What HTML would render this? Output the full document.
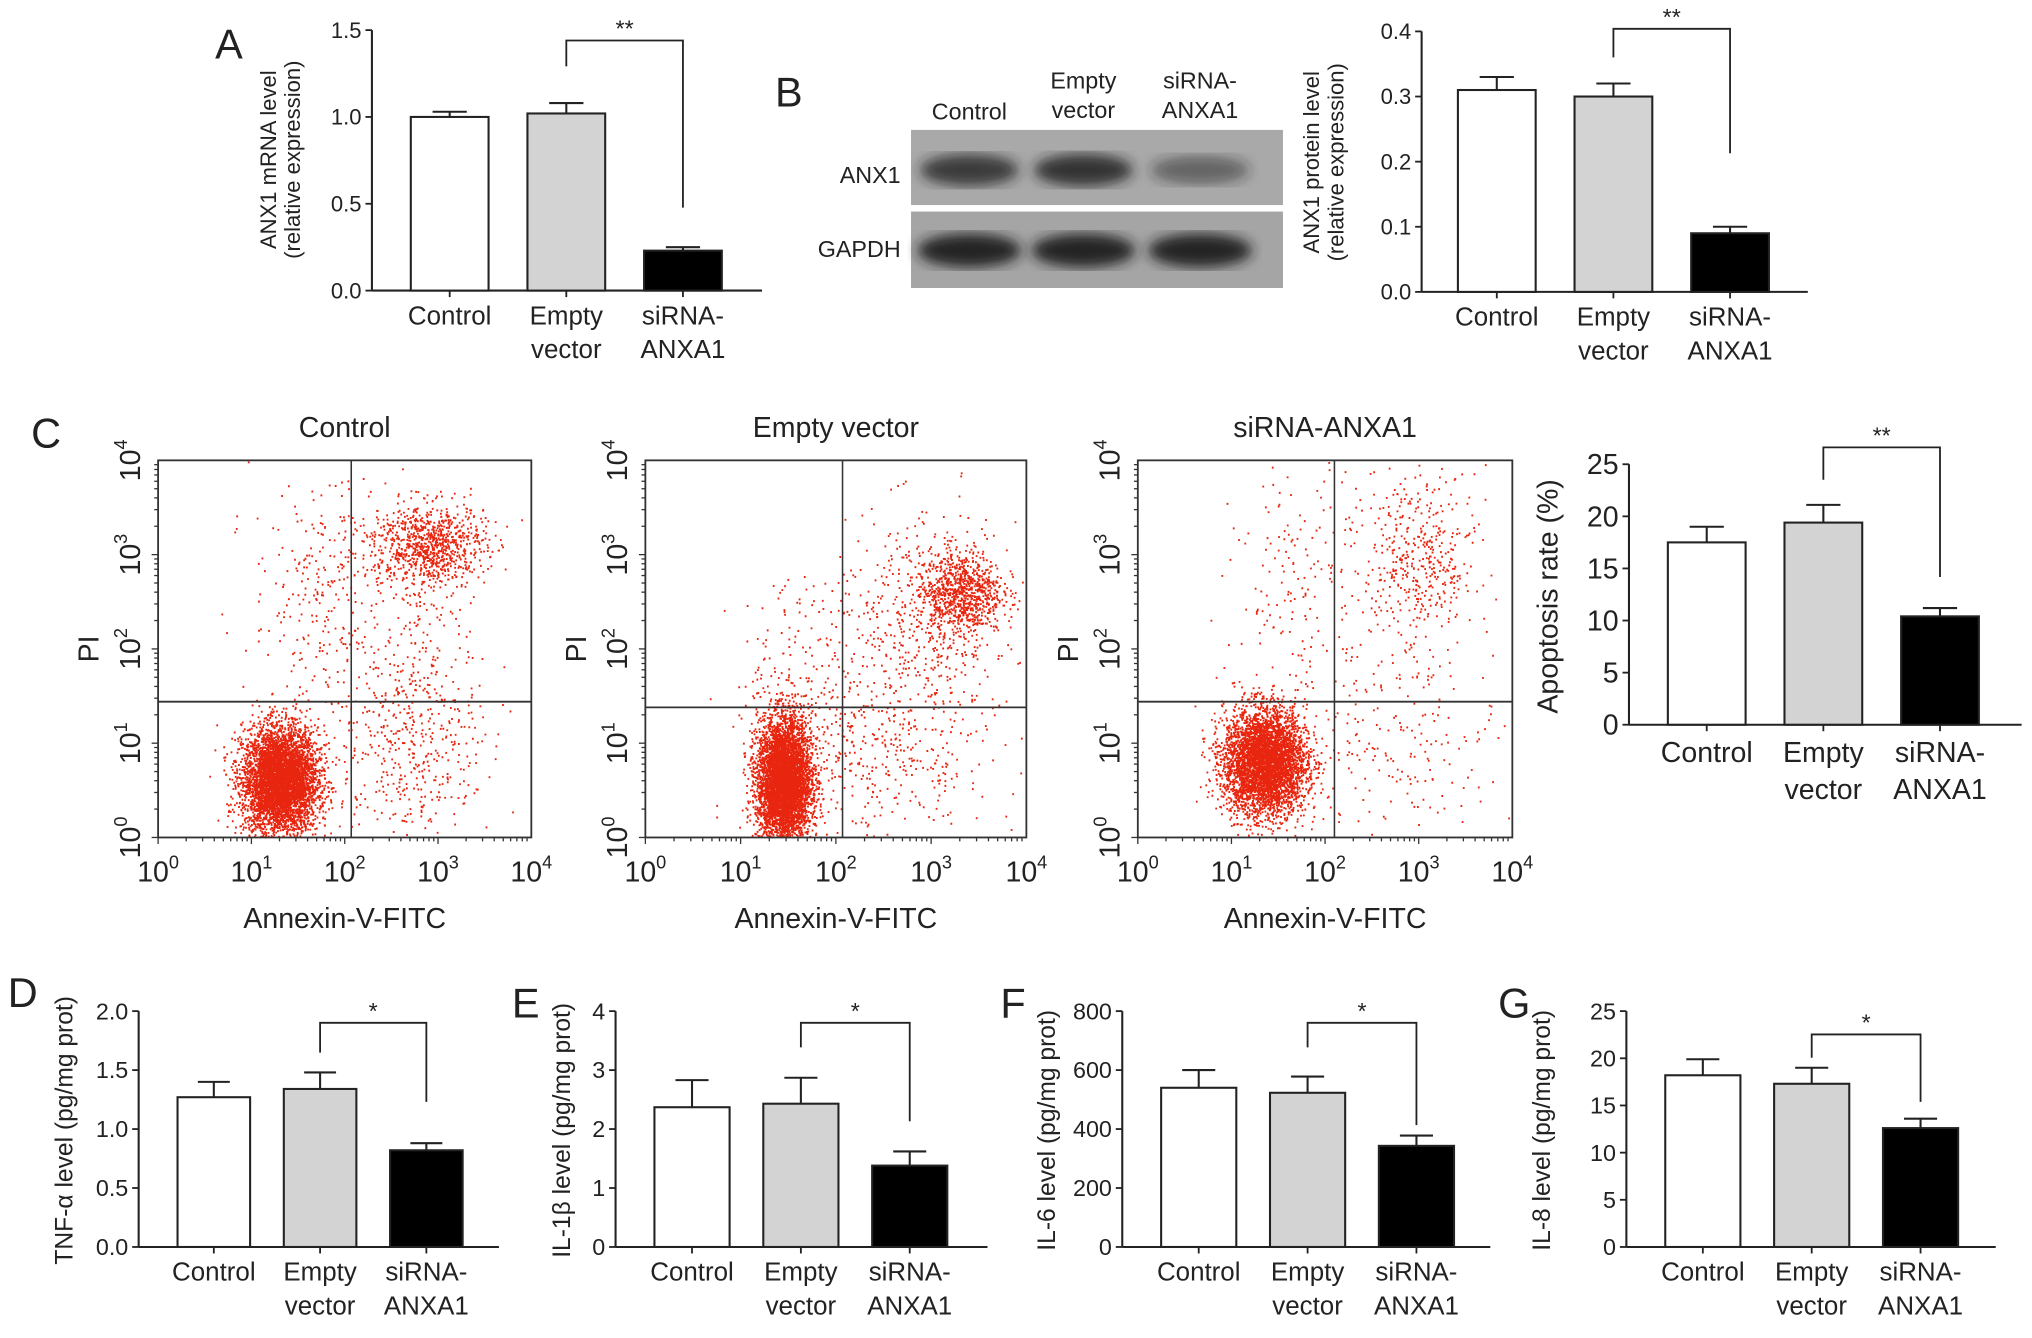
<!DOCTYPE html>
<html><head><meta charset="utf-8">
<style>
html,body{margin:0;padding:0;background:#fff;}
svg{display:block;}
text{font-family:"Liberation Sans Narrow","Liberation Sans",sans-serif;fill:#222;}
</style></head>
<body>
<svg id="fig" width="2032" height="1338" viewBox="0 0 1568 1032" xmlns="http://www.w3.org/2000/svg">
<rect width="1568" height="1032" fill="#fff"/>
<g id="root"></g>
</svg>
<script>
// ---- data ----
const categories = ["Control","Empty vector","siRNA-ANXA1"];
const mrnaValues = [1.00, 1.02, 0.23];
const mrnaErrors = [0.03, 0.06, 0.02];
const mrnaTicks = ["0.0","0.5","1.0","1.5"];
const proteinValues = [0.31, 0.30, 0.09];
const proteinErrors = [0.02, 0.02, 0.01];
const proteinTicks = ["0.0","0.1","0.2","0.3","0.4"];
const apoptosisValues = [17.5, 19.4, 10.4];
const apoptosisErrors = [1.5, 1.7, 0.8];
const apoptosisTicks = ["0","5","10","15","20","25"];
const tnfValues = [1.27, 1.34, 0.82];
const tnfErrors = [0.13, 0.14, 0.06];
const tnfTicks = ["0.0","0.5","1.0","1.5","2.0"];
const il1Values = [2.37, 2.43, 1.38];
const il1Errors = [0.46, 0.44, 0.24];
const il1Ticks = ["0","1","2","3","4"];
const il6Values = [540, 523, 343];
const il6Errors = [60, 55, 35];
const il6Ticks = ["0","200","400","600","800"];
const il8Values = [18.2, 17.3, 12.6];
const il8Errors = [1.7, 1.7, 1.0];
const il8Ticks = ["0","5","10","15","20","25"];
// flow clusters: [xLog, yLog, sdX, sdY, count]
const flowControl = [[1.3,0.6,0.2,0.28,5000],[2.9,3.1,0.3,0.22,900],[1.8,2.6,0.4,0.6,300],[2.8,1.5,0.3,0.8,350],[2.5,0.8,0.6,0.5,250]];
const flowEmpty = [[1.45,0.6,0.14,0.33,5500],[3.3,2.6,0.22,0.22,900],[2.9,2.2,0.5,0.6,500],[2.4,0.8,0.6,0.5,400],[1.7,1.8,0.4,0.5,150]];
const flowSiRNA = [[1.35,0.8,0.22,0.28,4500],[3.0,2.9,0.3,0.5,450],[1.8,2.7,0.4,0.6,180],[2.9,1.0,0.5,0.5,180]];
const fillColors = ["#ffffff","#d3d3d3","#000000"];

const NS="http://www.w3.org/2000/svg";
const root=document.getElementById('root');
function el(tag,attrs,parent,txt){const e=document.createElementNS(NS,tag);for(const k in attrs)e.setAttribute(k,attrs[k]);if(txt!==undefined)e.textContent=txt;(parent||root).appendChild(e);return e;}

function barChart(o){
  const g=el('g',{});
  
  
  const n=o.ticks.length-1, maxV=parseFloat(o.ticks[n]);
  const y=v=>o.y0-(v/maxV)*(o.y0-o.y1);
  const ax=el('line',{x1:o.ax,y1:o.y1,x2:o.ax,y2:o.y0,stroke:'#222','stroke-width':1.6},g);
  
  const xa=el('line',{x1:o.ax,y1:o.y0,x2:o.axEnd,y2:o.y0,stroke:'#222','stroke-width':1.6},g);
  
  o.ticks.forEach((t,i)=>{const v=parseFloat(t),yy=y(v);
    el('line',{x1:o.ax-5,y1:yy,x2:o.ax,y2:yy,stroke:'#222','stroke-width':1.4},g);
    const tl=el('text',{x:o.ax-8,y:yy+o.tf*0.35,'text-anchor':'end','font-size':o.tf},g,t);
    });
  o.values.forEach((v,i)=>{const cx=o.x0+i*o.step, top=y(v), et=y(v+o.errors[i]);
    el('line',{x1:cx,y1:top,x2:cx,y2:et,stroke:'#222','stroke-width':1.6},g);
    el('line',{x1:cx-o.bw*0.22,y1:et,x2:cx+o.bw*0.22,y2:et,stroke:'#222','stroke-width':1.6},g);
    const b=el('rect',{x:cx-o.bw/2,y:top,width:o.bw,height:o.y0-top,fill:fillColors[i],stroke:'#222','stroke-width':1.6},g);
    
    el('line',{x1:cx,y1:o.y0,x2:cx,y2:o.y0+5,stroke:'#222','stroke-width':1.4},g);
    const lines=i==0?["Control"]:i==1?["Empty","vector"]:["siRNA-","ANXA1"];
    lines.forEach((s,k)=>{const t=el('text',{x:cx,y:o.y0+o.xf*1.3+k*o.xf*1.3,'text-anchor':'middle','font-size':o.xf},g,s);
      });
  });
  const bx1=o.x0+o.step, bx2=o.x0+2*o.step;
  el('polyline',{points:`${bx1},${o.brLeft} ${bx1},${o.brY} ${bx2},${o.brY} ${bx2},${o.brRight}`,fill:'none',stroke:'#222','stroke-width':1.4},g);
  const st=el('text',{x:(bx1+bx2)/2,y:o.brY-3,'text-anchor':'middle','font-size':18},g,o.stars);
  
  const tg=el('text',{transform:`translate(${o.tx},${o.tcy}) rotate(-90)`,'text-anchor':'middle','font-size':o.titleF,style:'font-family:"Liberation Sans",sans-serif'},g);
  
  o.title.forEach((s,k)=>{el('tspan',{x:0,dy:k==0?0:o.titleF*1.1},tg,s);});
  const pl=el('text',{x:o.lx,y:o.ly,'font-size':32,style:'font-family:"Liberation Sans",sans-serif'},g,o.label);
  
}

barChart({name:'chart-a-mrna',values:mrnaValues,errors:mrnaErrors,ticks:mrnaTicks,ax:287,axEnd:588,y0:224,y1:23,x0:347,step:90,bw:60,tf:17,xf:20,brY:31,brLeft:51,brRight:160,stars:'**',tx:213,tcy:123,titleF:17,title:['ANX1 mRNA level','(relative expression)'],label:'A',lx:166,ly:45});
barChart({name:'chart-b-protein',values:proteinValues,errors:proteinErrors,ticks:proteinTicks,ax:1097,axEnd:1395,y0:225,y1:24,x0:1155,step:90,bw:60,tf:17,xf:20,brY:22,brLeft:44,brRight:118,stars:'**',tx:1018,tcy:125,titleF:17,title:['ANX1 protein level','(relative expression)'],label:'B',lx:598,ly:82});
barChart({name:'chart-c-apoptosis',values:apoptosisValues,errors:apoptosisErrors,ticks:apoptosisTicks,ax:1257,axEnd:1560,y0:559,y1:358,x0:1317,step:90,bw:60,tf:22,xf:22,brY:345,brLeft:370,brRight:445,stars:'**',tx:1202,tcy:460,titleF:22,title:['Apoptosis rate (%)'],label:'',lx:0,ly:0});
barChart({name:'chart-d-tnf',values:tnfValues,errors:tnfErrors,ticks:tnfTicks,ax:107,axEnd:385,y0:962,y1:780,x0:165,step:82,bw:56,tf:18,xf:20,brY:789,brLeft:812,brRight:850,stars:'*',tx:56,tcy:872,titleF:19,title:['TNF-α level (pg/mg prot)'],label:'D',lx:6,ly:777});
barChart({name:'chart-e-il1b',values:il1Values,errors:il1Errors,ticks:il1Ticks,ax:475,axEnd:762,y0:962,y1:780,x0:534,step:84,bw:58,tf:18,xf:20,brY:789,brLeft:808,brRight:865,stars:'*',tx:440,tcy:872,titleF:19,title:['IL-1β level (pg/mg prot)'],label:'E',lx:395,ly:785});
barChart({name:'chart-f-il6',values:il6Values,errors:il6Errors,ticks:il6Ticks,ax:866,axEnd:1150,y0:962,y1:780,x0:925,step:84,bw:58,tf:18,xf:20,brY:789,brLeft:808,brRight:868,stars:'*',tx:814,tcy:872,titleF:19,title:['IL-6 level (pg/mg prot)'],label:'F',lx:772,ly:785});
barChart({name:'chart-g-il8',values:il8Values,errors:il8Errors,ticks:il8Ticks,ax:1255,axEnd:1540,y0:962,y1:780,x0:1314,step:84,bw:58,tf:18,xf:20,brY:798,brLeft:816,brRight:850,stars:'*',tx:1196,tcy:872,titleF:19,title:['IL-8 level (pg/mg prot)'],label:'G',lx:1156,ly:785});

// ---- western blot ----
(function(){
  const g=el('g',{});
  
  
  const defs=el('defs',{},g);
  const f=el('filter',{id:'blur'},defs);el('feGaussianBlur',{stdDeviation:5},f);
  el('rect',{x:703,y:100,width:287,height:58,fill:'#a9a9a9'},g);
  el('rect',{x:703,y:163,width:287,height:59,fill:'#a5a5a5'},g);
  const anx=[0.8,0.85,0.5], gap=[0.95,0.95,0.95], lanes=[748,836,926];
  lanes.forEach((cx,i)=>{
    el('ellipse',{cx:cx,cy:131,rx:38,ry:9+4*anx[i],fill:'#222','fill-opacity':anx[i],filter:'url(#blur)'},g);
    el('ellipse',{cx:cx,cy:193,rx:40,ry:13,fill:'#1a1a1a','fill-opacity':gap[i],filter:'url(#blur)'},g);
  });
  const L=[["Control"],["Empty","vector"],["siRNA-","ANXA1"]];
  L.forEach((ls,i)=>ls.forEach((s,k)=>{const t=el('text',{x:lanes[i],y:(ls.length==1?92:68)+k*23,'text-anchor':'middle','font-size':18},g,s);}));
  let t=el('text',{x:695,y:141,'text-anchor':'end','font-size':18},g,'ANX1');
  t=el('text',{x:695,y:198,'text-anchor':'end','font-size':18},g,'GAPDH');
})();

// ---- flow plots ----
let seed=12345;function rnd(){seed=(seed*1103515245+12345)%2147483648;return seed/2147483648;}
function gauss(){let u=rnd()||1e-9,v=rnd();return Math.sqrt(-2*Math.log(u))*Math.cos(2*Math.PI*v);}
function flow(name,clusters,x0,x1,y0,y1,qx,qy,title){
  const g=el('g',{});
  
  
  const X=l=>x0+l/4*(x1-x0), Y=l=>y1-l/4*(y1-y0);
  let d='';
  clusters.forEach(c=>{for(let i=0;i<c[4];i++){const lx=c[0]+gauss()*c[2],ly=c[1]+gauss()*c[3];if(lx<0||lx>4||ly<0||ly>4)continue;d+=`M${X(lx).toFixed(1)} ${Y(ly).toFixed(1)}h1.4`;}});
  const p=el('path',{d:d,stroke:'#e8260f','stroke-width':1.5,fill:'none'},g);
  
  el('rect',{x:x0,y:y0,width:x1-x0,height:y1-y0,fill:'none',stroke:'#333','stroke-width':1.4},g);
  el('line',{x1:X(qx),y1:y0,x2:X(qx),y2:y1,stroke:'#333','stroke-width':1.2},g);
  el('line',{x1:x0,y1:Y(qy),x2:x1,y2:Y(qy),stroke:'#333','stroke-width':1.4},g);
  for(let dcd=0;dcd<4;dcd++)for(let m=1;m<=9;m++){const l=dcd+Math.log10(m);
    el('line',{x1:X(l),y1:y1,x2:X(l),y2:y1+(m==1?5:3),stroke:'#333','stroke-width':1},g);
    el('line',{x1:x0-(m==1?5:3),y1:Y(l),x2:x0,y2:Y(l),stroke:'#333','stroke-width':1},g);}
  for(let k=0;k<=4;k++){
    const t=el('text',{x:X(k),y:y1+34,'text-anchor':'middle','font-size':22},g);
    
    el('tspan',{},t,'10');el('tspan',{dy:-10,'font-size':14},t,String(k));
    const ty=el('text',{transform:`translate(${x0-14},${Y(k)}) rotate(-90)`,'text-anchor':'middle','font-size':22},g);
    
    el('tspan',{},ty,'10');el('tspan',{dy:-10,'font-size':14},ty,String(k));
  }
  let t=el('text',{x:(x0+x1)/2,y:y1+70,'text-anchor':'middle','font-size':22,style:'font-family:"Liberation Sans",sans-serif'},g,'Annexin-V-FITC');
  t=el('text',{transform:`translate(${x0-46},${(y0+y1)/2}) rotate(-90)`,'text-anchor':'middle','font-size':22,style:'font-family:"Liberation Sans",sans-serif'},g,'PI');
  t=el('text',{x:(x0+x1)/2,y:y0-18,'text-anchor':'middle','font-size':22,style:'font-family:"Liberation Sans",sans-serif'},g,title);
}
flow('flow-control',flowControl,122,410,355,646,2.07,1.44,'Control');
flow('flow-empty-vector',flowEmpty,498,792,355,646,2.07,1.38,'Empty vector');
flow('flow-sirna-anxa1',flowSiRNA,878,1167,355,646,2.1,1.44,'siRNA-ANXA1');
const C=el('text',{x:24,y:345,'font-size':32,style:'font-family:"Liberation Sans",sans-serif'},root,'C');


</script>
</body></html>
